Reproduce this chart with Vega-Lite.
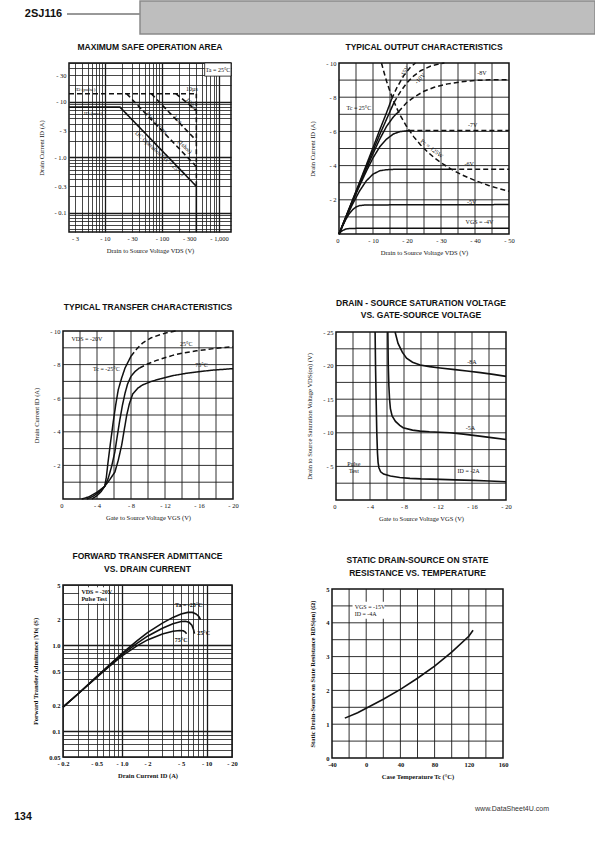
{
  "$schema": "https://vega.github.io/schema/vega-lite/v6.json",
  "padding": 0,
  "background": "white",
  "spacing": 0,
  "bounds": "flush",
  "config": {
    "view": {"stroke": null},
    "font": "Liberation Serif",
    "axis": {"domain": false, "ticks": false, "grid": true, "gridColor": "#1a1a1a", "gridOpacity": 1, "gridWidth": 0.8, "labelFont": "Liberation Serif", "labelFontSize": 6.5, "labelColor": "#111", "labelPadding": 3, "labelOverlap": false, "labelFlush": false, "titleFont": "Liberation Serif", "titleFontSize": 6.5, "titleFontWeight": "normal", "titleColor": "#111", "titlePadding": 6},
    "axisY": {"titlePadding": 10},
    "title": {"font": "Liberation Sans", "fontSize": 8.5, "fontWeight": "bold", "color": "#111", "offset": 9, "lineHeight": 12.5},
    "text": {"font": "Liberation Serif", "fontSize": 6, "color": "#111"},
    "line": {"color": "#111", "strokeWidth": 1.5, "clip": true},
    "rule": {"color": "#111", "strokeWidth": 1.5}
  },
  "datasets": {
    "msoa": [
      {"limit": "DC", "x": 2.35, "y": 8}, {"limit": "DC", "x": 18.4, "y": 8}, {"limit": "DC", "x": 400, "y": 0.3},
      {"limit": "pulse", "x": 2.35, "y": 14}, {"limit": "pulse", "x": 400, "y": 14},
      {"limit": "10 ms", "x": 24, "y": 14}, {"limit": "10 ms", "x": 400, "y": 0.68},
      {"limit": "1 ms", "x": 65, "y": 14}, {"limit": "1 ms", "x": 400, "y": 2.0},
      {"limit": "100 us", "x": 175, "y": 14}, {"limit": "100 us", "x": 400, "y": 7}
    ],
    "msoa_v": [
      {"limit": "DC", "x": 400, "y": 0.045, "y2": 0.3},
      {"limit": "pulse", "x": 400, "y": 0.3, "y2": 14}
    ],
    "output": [
      {"curve": "-4V", "region": "within", "x": 0, "y": 0}, {"curve": "-4V", "region": "within", "x": 0.5, "y": 0.12}, {"curve": "-4V", "region": "within", "x": 1, "y": 0.2}, {"curve": "-4V", "region": "within", "x": 2, "y": 0.29}, {"curve": "-4V", "region": "within", "x": 3, "y": 0.32}, {"curve": "-4V", "region": "within", "x": 5, "y": 0.33}, {"curve": "-4V", "region": "within", "x": 50, "y": 0.34},
      {"curve": "-5V", "region": "within", "x": 0, "y": 0}, {"curve": "-5V", "region": "within", "x": 1, "y": 0.45}, {"curve": "-5V", "region": "within", "x": 2, "y": 0.85}, {"curve": "-5V", "region": "within", "x": 3, "y": 1.18}, {"curve": "-5V", "region": "within", "x": 4, "y": 1.42}, {"curve": "-5V", "region": "within", "x": 5, "y": 1.58}, {"curve": "-5V", "region": "within", "x": 6, "y": 1.66}, {"curve": "-5V", "region": "within", "x": 8, "y": 1.7}, {"curve": "-5V", "region": "within", "x": 50, "y": 1.72},
      {"curve": "-6V", "region": "within", "x": 0, "y": 0}, {"curve": "-6V", "region": "within", "x": 2, "y": 0.9}, {"curve": "-6V", "region": "within", "x": 4, "y": 1.75}, {"curve": "-6V", "region": "within", "x": 6, "y": 2.5}, {"curve": "-6V", "region": "within", "x": 8, "y": 3.1}, {"curve": "-6V", "region": "within", "x": 10, "y": 3.5}, {"curve": "-6V", "region": "within", "x": 12, "y": 3.7}, {"curve": "-6V", "region": "within", "x": 14, "y": 3.76}, {"curve": "-6V", "region": "within", "x": 16, "y": 3.78}, {"curve": "-6V", "region": "within", "x": 33, "y": 3.78},
      {"curve": "-6V", "region": "beyond", "x": 33, "y": 3.78}, {"curve": "-6V", "region": "beyond", "x": 50, "y": 3.78},
      {"curve": "-7V", "region": "within", "x": 0, "y": 0}, {"curve": "-7V", "region": "within", "x": 2, "y": 0.95}, {"curve": "-7V", "region": "within", "x": 4, "y": 1.9}, {"curve": "-7V", "region": "within", "x": 6, "y": 2.8}, {"curve": "-7V", "region": "within", "x": 8, "y": 3.65}, {"curve": "-7V", "region": "within", "x": 10, "y": 4.45}, {"curve": "-7V", "region": "within", "x": 12, "y": 5.1}, {"curve": "-7V", "region": "within", "x": 14, "y": 5.55}, {"curve": "-7V", "region": "within", "x": 16, "y": 5.85}, {"curve": "-7V", "region": "within", "x": 18, "y": 5.99}, {"curve": "-7V", "region": "within", "x": 20.7, "y": 6.05},
      {"curve": "-7V", "region": "beyond", "x": 20.7, "y": 6.05}, {"curve": "-7V", "region": "beyond", "x": 50, "y": 6.05},
      {"curve": "-8V", "region": "within", "x": 0, "y": 0}, {"curve": "-8V", "region": "within", "x": 2, "y": 0.97}, {"curve": "-8V", "region": "within", "x": 4, "y": 1.93}, {"curve": "-8V", "region": "within", "x": 6, "y": 2.88}, {"curve": "-8V", "region": "within", "x": 8, "y": 3.8}, {"curve": "-8V", "region": "within", "x": 10, "y": 4.7}, {"curve": "-8V", "region": "within", "x": 12, "y": 5.55}, {"curve": "-8V", "region": "within", "x": 14, "y": 6.3}, {"curve": "-8V", "region": "within", "x": 16, "y": 6.85}, {"curve": "-8V", "region": "within", "x": 17.5, "y": 7.15},
      {"curve": "-8V", "region": "beyond", "x": 17.5, "y": 7.15}, {"curve": "-8V", "region": "beyond", "x": 20, "y": 7.7}, {"curve": "-8V", "region": "beyond", "x": 22, "y": 8.0}, {"curve": "-8V", "region": "beyond", "x": 25, "y": 8.35}, {"curve": "-8V", "region": "beyond", "x": 28, "y": 8.58}, {"curve": "-8V", "region": "beyond", "x": 32, "y": 8.78}, {"curve": "-8V", "region": "beyond", "x": 36, "y": 8.9}, {"curve": "-8V", "region": "beyond", "x": 40, "y": 8.98}, {"curve": "-8V", "region": "beyond", "x": 45, "y": 9.02}, {"curve": "-8V", "region": "beyond", "x": 50, "y": 9.02},
      {"curve": "-10V", "region": "within", "x": 0, "y": 0}, {"curve": "-10V", "region": "within", "x": 2, "y": 0.99}, {"curve": "-10V", "region": "within", "x": 4, "y": 1.97}, {"curve": "-10V", "region": "within", "x": 6, "y": 2.95}, {"curve": "-10V", "region": "within", "x": 8, "y": 3.92}, {"curve": "-10V", "region": "within", "x": 10, "y": 4.88}, {"curve": "-10V", "region": "within", "x": 12, "y": 5.82}, {"curve": "-10V", "region": "within", "x": 14, "y": 6.72}, {"curve": "-10V", "region": "within", "x": 16.2, "y": 7.7},
      {"curve": "-10V", "region": "beyond", "x": 16.2, "y": 7.7}, {"curve": "-10V", "region": "beyond", "x": 18, "y": 8.3}, {"curve": "-10V", "region": "beyond", "x": 20, "y": 8.85}, {"curve": "-10V", "region": "beyond", "x": 22, "y": 9.25}, {"curve": "-10V", "region": "beyond", "x": 24, "y": 9.55}, {"curve": "-10V", "region": "beyond", "x": 27, "y": 9.82}, {"curve": "-10V", "region": "beyond", "x": 30, "y": 9.97}, {"curve": "-10V", "region": "beyond", "x": 31, "y": 10},
      {"curve": "-15V", "region": "within", "x": 0, "y": 0}, {"curve": "-15V", "region": "within", "x": 2, "y": 1.0}, {"curve": "-15V", "region": "within", "x": 4, "y": 2.0}, {"curve": "-15V", "region": "within", "x": 6, "y": 3.0}, {"curve": "-15V", "region": "within", "x": 8, "y": 4.02}, {"curve": "-15V", "region": "within", "x": 10, "y": 5.05}, {"curve": "-15V", "region": "within", "x": 12, "y": 6.1}, {"curve": "-15V", "region": "within", "x": 14, "y": 7.1}, {"curve": "-15V", "region": "within", "x": 15.5, "y": 7.9},
      {"curve": "-15V", "region": "beyond", "x": 15.5, "y": 7.9}, {"curve": "-15V", "region": "beyond", "x": 17, "y": 8.55}, {"curve": "-15V", "region": "beyond", "x": 19, "y": 9.25}, {"curve": "-15V", "region": "beyond", "x": 21, "y": 9.75}, {"curve": "-15V", "region": "beyond", "x": 22.5, "y": 10},
      {"curve": "Pc", "region": "beyond", "x": 12.5, "y": 10}, {"curve": "Pc", "region": "beyond", "x": 13, "y": 9.62}, {"curve": "Pc", "region": "beyond", "x": 14, "y": 8.93}, {"curve": "Pc", "region": "beyond", "x": 15, "y": 8.33}, {"curve": "Pc", "region": "beyond", "x": 16, "y": 7.81}, {"curve": "Pc", "region": "beyond", "x": 17, "y": 7.35}, {"curve": "Pc", "region": "beyond", "x": 18, "y": 6.94}, {"curve": "Pc", "region": "beyond", "x": 20, "y": 6.25}, {"curve": "Pc", "region": "beyond", "x": 22, "y": 5.68}, {"curve": "Pc", "region": "beyond", "x": 24, "y": 5.21}, {"curve": "Pc", "region": "beyond", "x": 26, "y": 4.81}, {"curve": "Pc", "region": "beyond", "x": 28, "y": 4.46}, {"curve": "Pc", "region": "beyond", "x": 30, "y": 4.17}, {"curve": "Pc", "region": "beyond", "x": 33, "y": 3.79}, {"curve": "Pc", "region": "beyond", "x": 36, "y": 3.47}, {"curve": "Pc", "region": "beyond", "x": 40, "y": 3.13}, {"curve": "Pc", "region": "beyond", "x": 44, "y": 2.84}, {"curve": "Pc", "region": "beyond", "x": 47, "y": 2.66}, {"curve": "Pc", "region": "beyond", "x": 50, "y": 2.5}
    ],
    "transfer": [
      {"curve": "-25C", "region": "within", "x": 3.4, "y": 0}, {"curve": "-25C", "region": "within", "x": 4, "y": 0.2}, {"curve": "-25C", "region": "within", "x": 4.5, "y": 0.45}, {"curve": "-25C", "region": "within", "x": 4.9, "y": 0.75}, {"curve": "-25C", "region": "within", "x": 5.1, "y": 1.3}, {"curve": "-25C", "region": "within", "x": 5.3, "y": 2.2}, {"curve": "-25C", "region": "within", "x": 5.6, "y": 3.4}, {"curve": "-25C", "region": "within", "x": 5.9, "y": 4.55}, {"curve": "-25C", "region": "within", "x": 6.2, "y": 5.6}, {"curve": "-25C", "region": "within", "x": 6.5, "y": 6.5}, {"curve": "-25C", "region": "within", "x": 6.9, "y": 7.2}, {"curve": "-25C", "region": "within", "x": 7.3, "y": 7.8}, {"curve": "-25C", "region": "within", "x": 8.0, "y": 8.5},
      {"curve": "-25C", "region": "beyond", "x": 8.0, "y": 8.5}, {"curve": "-25C", "region": "beyond", "x": 8.7, "y": 8.95}, {"curve": "-25C", "region": "beyond", "x": 9.4, "y": 9.3}, {"curve": "-25C", "region": "beyond", "x": 10.4, "y": 9.6}, {"curve": "-25C", "region": "beyond", "x": 11.4, "y": 9.78}, {"curve": "-25C", "region": "beyond", "x": 12.4, "y": 9.92}, {"curve": "-25C", "region": "beyond", "x": 13.3, "y": 10},
      {"curve": "25C", "region": "within", "x": 2.8, "y": 0}, {"curve": "25C", "region": "within", "x": 3.5, "y": 0.15}, {"curve": "25C", "region": "within", "x": 4.2, "y": 0.4}, {"curve": "25C", "region": "within", "x": 4.9, "y": 0.75}, {"curve": "25C", "region": "within", "x": 5.3, "y": 1.2}, {"curve": "25C", "region": "within", "x": 5.7, "y": 1.9}, {"curve": "25C", "region": "within", "x": 6.1, "y": 2.8}, {"curve": "25C", "region": "within", "x": 6.4, "y": 3.8}, {"curve": "25C", "region": "within", "x": 6.7, "y": 4.75}, {"curve": "25C", "region": "within", "x": 7.0, "y": 5.6}, {"curve": "25C", "region": "within", "x": 7.3, "y": 6.3}, {"curve": "25C", "region": "within", "x": 7.6, "y": 6.85}, {"curve": "25C", "region": "within", "x": 8.0, "y": 7.3}, {"curve": "25C", "region": "within", "x": 8.5, "y": 7.6}, {"curve": "25C", "region": "within", "x": 9.0, "y": 7.8},
      {"curve": "25C", "region": "beyond", "x": 9.0, "y": 7.8}, {"curve": "25C", "region": "beyond", "x": 10, "y": 8.05}, {"curve": "25C", "region": "beyond", "x": 11, "y": 8.25}, {"curve": "25C", "region": "beyond", "x": 12.9, "y": 8.55}, {"curve": "25C", "region": "beyond", "x": 14, "y": 8.68}, {"curve": "25C", "region": "beyond", "x": 15.7, "y": 8.82}, {"curve": "25C", "region": "beyond", "x": 18, "y": 8.97}, {"curve": "25C", "region": "beyond", "x": 20, "y": 9.07},
      {"curve": "75C", "region": "within", "x": 2.2, "y": 0}, {"curve": "75C", "region": "within", "x": 3, "y": 0.12}, {"curve": "75C", "region": "within", "x": 4, "y": 0.4}, {"curve": "75C", "region": "within", "x": 4.9, "y": 0.75}, {"curve": "75C", "region": "within", "x": 5.5, "y": 1.15}, {"curve": "75C", "region": "within", "x": 6.1, "y": 1.6}, {"curve": "75C", "region": "within", "x": 6.5, "y": 2.3}, {"curve": "75C", "region": "within", "x": 6.9, "y": 3.2}, {"curve": "75C", "region": "within", "x": 7.2, "y": 4.1}, {"curve": "75C", "region": "within", "x": 7.5, "y": 5.0}, {"curve": "75C", "region": "within", "x": 7.8, "y": 5.65}, {"curve": "75C", "region": "within", "x": 8.2, "y": 6.25}, {"curve": "75C", "region": "within", "x": 8.8, "y": 6.6}, {"curve": "75C", "region": "within", "x": 9.4, "y": 6.8}, {"curve": "75C", "region": "within", "x": 10.4, "y": 7.0}, {"curve": "75C", "region": "within", "x": 11.4, "y": 7.15}, {"curve": "75C", "region": "within", "x": 13, "y": 7.35}, {"curve": "75C", "region": "within", "x": 14.5, "y": 7.48}, {"curve": "75C", "region": "within", "x": 16, "y": 7.58}, {"curve": "75C", "region": "within", "x": 17.6, "y": 7.67}, {"curve": "75C", "region": "within", "x": 20, "y": 7.76}
    ],
    "satv": [
      {"id": "-2A", "x": 4.6, "y": 25}, {"id": "-2A", "x": 4.65, "y": 20}, {"id": "-2A", "x": 4.72, "y": 15}, {"id": "-2A", "x": 4.8, "y": 10}, {"id": "-2A", "x": 4.88, "y": 7}, {"id": "-2A", "x": 4.95, "y": 5.6}, {"id": "-2A", "x": 5.05, "y": 4.8}, {"id": "-2A", "x": 5.25, "y": 4.2}, {"id": "-2A", "x": 5.6, "y": 3.85}, {"id": "-2A", "x": 6.4, "y": 3.56}, {"id": "-2A", "x": 7.5, "y": 3.35}, {"id": "-2A", "x": 8.7, "y": 3.22}, {"id": "-2A", "x": 10, "y": 3.14}, {"id": "-2A", "x": 12.25, "y": 3.07}, {"id": "-2A", "x": 14, "y": 3.0}, {"id": "-2A", "x": 16.2, "y": 2.92}, {"id": "-2A", "x": 18, "y": 2.83}, {"id": "-2A", "x": 20, "y": 2.72},
      {"id": "-5A", "x": 6.1, "y": 25}, {"id": "-5A", "x": 6.15, "y": 20}, {"id": "-5A", "x": 6.22, "y": 17}, {"id": "-5A", "x": 6.3, "y": 15}, {"id": "-5A", "x": 6.4, "y": 13.6}, {"id": "-5A", "x": 6.6, "y": 12.5}, {"id": "-5A", "x": 7.0, "y": 11.7}, {"id": "-5A", "x": 7.5, "y": 11.1}, {"id": "-5A", "x": 7.9, "y": 10.75}, {"id": "-5A", "x": 9, "y": 10.4}, {"id": "-5A", "x": 9.9, "y": 10.25}, {"id": "-5A", "x": 11, "y": 10.15}, {"id": "-5A", "x": 13.4, "y": 10.0}, {"id": "-5A", "x": 15, "y": 9.8}, {"id": "-5A", "x": 16.9, "y": 9.5}, {"id": "-5A", "x": 18.5, "y": 9.25}, {"id": "-5A", "x": 20, "y": 9.0},
      {"id": "-8A", "x": 6.95, "y": 25}, {"id": "-8A", "x": 7.3, "y": 23.3}, {"id": "-8A", "x": 7.8, "y": 22.0}, {"id": "-8A", "x": 8.3, "y": 21.1}, {"id": "-8A", "x": 9.0, "y": 20.5}, {"id": "-8A", "x": 9.9, "y": 20.1}, {"id": "-8A", "x": 11, "y": 19.85}, {"id": "-8A", "x": 12.25, "y": 19.65}, {"id": "-8A", "x": 14, "y": 19.4}, {"id": "-8A", "x": 15.4, "y": 19.2}, {"id": "-8A", "x": 17, "y": 18.95}, {"id": "-8A", "x": 18.5, "y": 18.7}, {"id": "-8A", "x": 20, "y": 18.4}
    ],
    "yfs": [
      {"curve": "-25C", "x": 0.2, "y": 0.19}, {"curve": "-25C", "x": 0.3, "y": 0.27}, {"curve": "-25C", "x": 0.5, "y": 0.43}, {"curve": "-25C", "x": 0.7, "y": 0.58}, {"curve": "-25C", "x": 1, "y": 0.8}, {"curve": "-25C", "x": 1.5, "y": 1.12}, {"curve": "-25C", "x": 2, "y": 1.4}, {"curve": "-25C", "x": 3, "y": 1.8}, {"curve": "-25C", "x": 4, "y": 2.1}, {"curve": "-25C", "x": 5, "y": 2.3}, {"curve": "-25C", "x": 6, "y": 2.4}, {"curve": "-25C", "x": 6.8, "y": 2.4}, {"curve": "-25C", "x": 7.5, "y": 2.3}, {"curve": "-25C", "x": 8.1, "y": 2.15}, {"curve": "-25C", "x": 8.5, "y": 1.98},
      {"curve": "25C", "x": 0.2, "y": 0.19}, {"curve": "25C", "x": 0.3, "y": 0.27}, {"curve": "25C", "x": 0.5, "y": 0.425}, {"curve": "25C", "x": 0.7, "y": 0.57}, {"curve": "25C", "x": 1, "y": 0.78}, {"curve": "25C", "x": 1.5, "y": 1.05}, {"curve": "25C", "x": 2, "y": 1.27}, {"curve": "25C", "x": 3, "y": 1.57}, {"curve": "25C", "x": 4, "y": 1.77}, {"curve": "25C", "x": 5, "y": 1.88}, {"curve": "25C", "x": 5.6, "y": 1.89}, {"curve": "25C", "x": 6.2, "y": 1.84}, {"curve": "25C", "x": 6.7, "y": 1.7}, {"curve": "25C", "x": 7.0, "y": 1.52}, {"curve": "25C", "x": 7.2, "y": 1.36},
      {"curve": "75C", "x": 0.2, "y": 0.19}, {"curve": "75C", "x": 0.3, "y": 0.27}, {"curve": "75C", "x": 0.5, "y": 0.42}, {"curve": "75C", "x": 0.7, "y": 0.56}, {"curve": "75C", "x": 1, "y": 0.75}, {"curve": "75C", "x": 1.5, "y": 0.98}, {"curve": "75C", "x": 2, "y": 1.15}, {"curve": "75C", "x": 3, "y": 1.35}, {"curve": "75C", "x": 4, "y": 1.45}, {"curve": "75C", "x": 4.8, "y": 1.48}, {"curve": "75C", "x": 5.3, "y": 1.47}, {"curve": "75C", "x": 5.6, "y": 1.42}, {"curve": "75C", "x": 5.8, "y": 1.36}
    ],
    "rds": [
      {"x": -25, "y": 1.18}, {"x": -10, "y": 1.34}, {"x": 0, "y": 1.47}, {"x": 20, "y": 1.74}, {"x": 40, "y": 2.03}, {"x": 60, "y": 2.36}, {"x": 80, "y": 2.72}, {"x": 100, "y": 3.13}, {"x": 120, "y": 3.6}, {"x": 125, "y": 3.78}
    ]
  },
  "vconcat": [
    {
      "hconcat": [
        {"width": 20, "height": 33, "data": {"values": []}, "mark": "point"},
        {"width": 47, "height": 26, "data": {"values": [{"label": "2SJ116"}]}, "mark": {"type": "text", "font": "Liberation Sans", "fontSize": 11, "fontWeight": "bold", "color": "#111"}, "encoding": {"text": {"field": "label"}}},
        {"width": 73, "height": 26, "data": {"values": [{"level": 0.5}]}, "mark": {"type": "rule", "strokeWidth": 1, "color": "#333"}, "encoding": {"y": {"field": "level", "type": "quantitative", "scale": {"domain": [0, 1]}, "axis": null}}},
        {"width": 455, "height": 33, "view": {"fill": "#bebebe", "stroke": "#8a8a8a", "strokeWidth": 1.5}, "data": {"values": []}, "mark": "point"}
      ],
      "spacing": 0, "bounds": "flush"
    },
    {"width": 1, "height": 62, "data": {"values": []}, "mark": "point"},
    {
      "hconcat": [
        {"width": 69, "height": 1, "data": {"values": []}, "mark": "point"},
        {
          "width": 162, "height": 169,
          "view": {"stroke": "#111", "strokeWidth": 1.5},
          "title": {"text": "MAXIMUM SAFE OPERATION AREA"},
          "encoding": {
            "x": {"field": "x", "type": "quantitative", "scale": {"type": "log", "domain": [2.35, 1620], "nice": false},
              "axis": {"title": "Drain to Source Voltage VDS (V)", "values": [3,4,5,6,7,8,9,10,20,30,40,50,60,70,80,90,100,200,300,400,500,600,700,800,900,1000],
                "labelExpr": "indexof([3,10,30,100,300,1000], datum.value) >= 0 ? '- ' + format(datum.value, ',') : ''",
                "gridWidth": {"condition": {"test": "indexof([10,100,1000], datum.value) >= 0", "value": 1.3}, "value": 0.8}}},
            "y": {"field": "y", "type": "quantitative", "scale": {"type": "log", "domain": [0.045, 50], "nice": false},
              "axis": {"title": "Drain Current ID (A)", "values": [0.05,0.06,0.07,0.08,0.09,0.1,0.2,0.3,0.4,0.5,0.6,0.7,0.8,0.9,1,2,3,4,5,6,7,8,9,10,20,30,40,50],
                "labelExpr": "indexof([0.1,0.3,1,3,10,30], datum.value) >= 0 ? '- ' + (datum.value == 1 ? '1.0' : format(datum.value, '~g')) : ''",
                "gridWidth": {"condition": {"test": "indexof([0.1,1,10], datum.value) >= 0", "value": 1.3}, "value": 0.8}}}
          },
          "layer": [
            {"data": {"values": [{"x": 560, "x2": 1620, "y": 29, "y2": 50}]}, "mark": {"type": "rect", "fill": "white", "stroke": "#111", "strokeWidth": 0.8}, "encoding": {"x2": {"field": "x2"}, "y2": {"field": "y2"}}},
            {"data": {"name": "msoa"}, "mark": {"type": "line", "strokeWidth": 1.6}, "encoding": {"strokeDash": {"field": "limit", "type": "nominal", "scale": {"domain": ["DC", "pulse", "10 ms", "1 ms", "100 us"], "range": [[1, 0], [5, 3], [5, 3], [5, 3], [5, 3]]}, "legend": null}}},
            {"data": {"name": "msoa_v"}, "mark": {"type": "rule", "strokeWidth": 1.6}, "encoding": {"y2": {"field": "y2"}, "strokeDash": {"field": "limit", "type": "nominal", "scale": {"domain": ["DC", "pulse", "10 ms", "1 ms", "100 us"], "range": [[1, 0], [5, 3], [5, 3], [5, 3], [5, 3]]}, "legend": null}}},
            {"data": {"values": [{"x": 957, "y": 38, "label": "Ta = 25°C"}, {"x": 336, "y": 17.1, "label": "10µs"}]}, "mark": {"type": "text", "fontSize": 6}, "encoding": {"text": {"field": "label"}}},
            {"data": {"values": [{"x": 3.0, "y": 16.8, "label": "ID (pulse)"}, {"x": 4.3, "y": 6.2, "label": "ID (max)"}]}, "mark": {"type": "text", "fontSize": 5, "align": "left"}, "encoding": {"text": {"field": "label"}}},
            {"data": {"values": [{"x": 331, "y": 9.0, "label": "100µs"}]}, "mark": {"type": "text", "fontSize": 6, "angle": 50}, "encoding": {"text": {"field": "label"}}},
            {"data": {"values": [{"x": 190, "y": 4.8, "label": "1ms"}]}, "mark": {"type": "text", "fontSize": 6, "angle": 45}, "encoding": {"text": {"field": "label"}}},
            {"data": {"values": [{"x": 80.7, "y": 4.1, "label": "PW = 10ms"}]}, "mark": {"type": "text", "fontSize": 6, "angle": 45}, "encoding": {"text": {"field": "label"}}},
            {"data": {"values": [{"x": 253, "y": 1.56, "label": "(1shot)"}]}, "mark": {"type": "text", "fontSize": 6, "angle": 45}, "encoding": {"text": {"field": "label"}}},
            {"data": {"values": [{"x": 92, "y": 1.17, "label": "DC Operation (Tc = 25°C)"}]}, "mark": {"type": "text", "fontSize": 6, "angle": 42}, "encoding": {"text": {"field": "label"}}}
          ]
        },
        {"width": 108, "height": 1, "data": {"values": []}, "mark": "point"},
        {
          "width": 170, "height": 171,
          "view": {"stroke": "#111", "strokeWidth": 1.5},
          "title": {"text": "TYPICAL OUTPUT CHARACTERISTICS"},
          "encoding": {
            "x": {"field": "x", "type": "quantitative", "scale": {"domain": [0, 50], "nice": false},
              "axis": {"title": "Drain to Source Voltage VDS (V)", "grid": false, "values": [0,10,20,30,40,50],
                "labelExpr": "datum.value == 0 ? '0' : '- ' + datum.value",
                "labelAlign": {"condition": {"test": "datum.value == 0", "value": "right"}, "value": "center"}}},
            "y": {"field": "y", "type": "quantitative", "scale": {"domain": [0, 10], "nice": false},
              "axis": {"title": "Drain Current ID (A)", "grid": false, "values": [2,4,6,8,10],
                "labelExpr": "'- ' + datum.value"}}
          },
          "layer": [
            {"data": {"values": [{"x": 5, "y": 0, "y2": 10}, {"x": 10, "y": 0, "y2": 10}, {"x": 15, "y": 0, "y2": 10}, {"x": 20, "y": 0, "y2": 10}, {"x": 25, "y": 0, "y2": 10}, {"x": 30, "y": 0, "y2": 10}, {"x": 35, "y": 0, "y2": 10}, {"x": 40, "y": 0, "y2": 10}, {"x": 45, "y": 0, "y2": 10}]}, "mark": {"type": "rule", "strokeWidth": 0.9, "color": "#1a1a1a"}, "encoding": {"y2": {"field": "y2"}}},
            {"data": {"values": [{"y": 1, "x": 0, "x2": 50}, {"y": 2, "x": 0, "x2": 50}, {"y": 3, "x": 0, "x2": 50}, {"y": 4, "x": 0, "x2": 50}, {"y": 5, "x": 0, "x2": 50}, {"y": 6, "x": 0, "x2": 50}, {"y": 7, "x": 0, "x2": 50}, {"y": 8, "x": 0, "x2": 50}, {"y": 9, "x": 0, "x2": 50}]}, "mark": {"type": "rule", "strokeWidth": 0.9, "color": "#1a1a1a"}, "encoding": {"x2": {"field": "x2"}}},
            {"data": {"name": "output"}, "mark": {"type": "line", "strokeWidth": 1.5}, "encoding": {"detail": {"field": "curve"}, "strokeDash": {"field": "region", "type": "nominal", "scale": {"domain": ["within", "beyond"], "range": [[1, 0], [5, 3]]}, "legend": null}}},
            {"data": {"values": [{"x": 2.2, "y": 7.35, "label": "Tc = 25°C"}]}, "mark": {"type": "text", "align": "left"}, "encoding": {"text": {"field": "label"}}},
            {"data": {"values": [{"x": 41.3, "y": 0.7, "label": "VGS = -4V"}, {"x": 39, "y": 1.9, "label": "-5V"}, {"x": 38.3, "y": 4.1, "label": "-6V"}, {"x": 39.3, "y": 6.4, "label": "-7V"}, {"x": 42, "y": 9.4, "label": "-8V"}]}, "mark": {"type": "text"}, "encoding": {"text": {"field": "label"}}},
            {"data": {"values": [{"x": 19.3, "y": 9.5, "label": "-15V"}]}, "mark": {"type": "text", "angle": -56}, "encoding": {"text": {"field": "label"}}},
            {"data": {"values": [{"x": 23.8, "y": 9.1, "label": "-10V"}]}, "mark": {"type": "text", "angle": -45}, "encoding": {"text": {"field": "label"}}},
            {"data": {"values": [{"x": 27.3, "y": 5.0, "label": "Pc = 125W"}]}, "mark": {"type": "text", "angle": 38}, "encoding": {"text": {"field": "label"}}}
          ]
        }
      ],
      "spacing": 0, "bounds": "flush"
    },
    {"width": 1, "height": 268, "data": {"values": []}, "mark": "point"},
    {
      "hconcat": [
        {"width": 63, "height": 1, "data": {"values": []}, "mark": "point"},
        {
          "width": 170, "height": 168,
          "view": {"stroke": "#111", "strokeWidth": 1.5},
          "title": {"text": "TYPICAL TRANSFER CHARACTERISTICS", "offset": 17},
          "encoding": {
            "x": {"field": "x", "type": "quantitative", "scale": {"domain": [0, 20], "nice": false},
              "axis": {"title": "Gate to Source Voltage VGS (V)", "grid": false, "values": [0,4,8,12,16,20],
                "labelExpr": "datum.value == 0 ? '0' : '- ' + datum.value",
                "labelAlign": {"condition": {"test": "datum.value == 0", "value": "right"}, "value": "center"}}},
            "y": {"field": "y", "type": "quantitative", "scale": {"domain": [0, 10], "nice": false},
              "axis": {"title": "Drain Current ID (A)", "grid": false, "values": [2,4,6,8,10],
                "labelExpr": "'- ' + datum.value"}}
          },
          "layer": [
            {"data": {"values": [{"x": 2, "y": 0, "y2": 10}, {"x": 4, "y": 0, "y2": 10}, {"x": 6, "y": 0, "y2": 10}, {"x": 8, "y": 0, "y2": 10}, {"x": 10, "y": 0, "y2": 10}, {"x": 12, "y": 0, "y2": 10}, {"x": 14, "y": 0, "y2": 10}, {"x": 16, "y": 0, "y2": 10}, {"x": 18, "y": 0, "y2": 10}]}, "mark": {"type": "rule", "strokeWidth": 0.9, "color": "#1a1a1a"}, "encoding": {"y2": {"field": "y2"}}},
            {"data": {"values": [{"y": 1, "x": 0, "x2": 20}, {"y": 2, "x": 0, "x2": 20}, {"y": 3, "x": 0, "x2": 20}, {"y": 4, "x": 0, "x2": 20}, {"y": 5, "x": 0, "x2": 20}, {"y": 6, "x": 0, "x2": 20}, {"y": 7, "x": 0, "x2": 20}, {"y": 8, "x": 0, "x2": 20}, {"y": 9, "x": 0, "x2": 20}]}, "mark": {"type": "rule", "strokeWidth": 0.9, "color": "#1a1a1a"}, "encoding": {"x2": {"field": "x2"}}},
            {"data": {"name": "transfer"}, "mark": {"type": "line", "strokeWidth": 1.5}, "encoding": {"detail": {"field": "curve"}, "strokeDash": {"field": "region", "type": "nominal", "scale": {"domain": ["within", "beyond"], "range": [[1, 0], [5, 3]]}, "legend": null}}},
            {"data": {"values": [{"x": 1.0, "y": 9.5, "label": "VDS = -20V"}]}, "mark": {"type": "text", "align": "left"}, "encoding": {"text": {"field": "label"}}},
            {"data": {"values": [{"x": 5.1, "y": 7.72, "label": "Tc = -25°C"}, {"x": 14.5, "y": 9.2, "label": "25°C"}, {"x": 16.3, "y": 7.96, "label": "75°C"}]}, "mark": {"type": "text"}, "encoding": {"text": {"field": "label"}}}
          ]
        },
        {"width": 103, "height": 1, "data": {"values": []}, "mark": "point"},
        {
          "vconcat": [
            {"width": 1, "height": 1, "data": {"values": []}, "mark": "point"},
            {
              "width": 170, "height": 168,
              "view": {"stroke": "#111", "strokeWidth": 1.5},
              "title": {"text": ["DRAIN - SOURCE SATURATION VOLTAGE", "VS. GATE-SOURCE VOLTAGE"]},
              "encoding": {
                "x": {"field": "x", "type": "quantitative", "scale": {"domain": [0, 20], "nice": false},
                  "axis": {"title": "Gate to Source Voltage VGS (V)", "grid": false, "values": [0,4,8,12,16,20],
                    "labelExpr": "datum.value == 0 ? '0' : '- ' + datum.value",
                    "labelAlign": {"condition": {"test": "datum.value == 0", "value": "right"}, "value": "center"}}},
                "y": {"field": "y", "type": "quantitative", "scale": {"domain": [0, 25], "nice": false},
                  "axis": {"title": "Drain to Source Saturation Voltage VDS(on) (V)", "grid": false, "values": [5,10,15,20,25],
                    "labelExpr": "'- ' + datum.value"}}
              },
              "layer": [
                {"data": {"values": [{"x": 2, "y": 0, "y2": 25}, {"x": 4, "y": 0, "y2": 25}, {"x": 6, "y": 0, "y2": 25}, {"x": 8, "y": 0, "y2": 25}, {"x": 10, "y": 0, "y2": 25}, {"x": 12, "y": 0, "y2": 25}, {"x": 14, "y": 0, "y2": 25}, {"x": 16, "y": 0, "y2": 25}, {"x": 18, "y": 0, "y2": 25}]}, "mark": {"type": "rule", "strokeWidth": 0.9, "color": "#1a1a1a"}, "encoding": {"y2": {"field": "y2"}}},
                {"data": {"values": [{"y": 2.5, "x": 0, "x2": 20}, {"y": 5, "x": 0, "x2": 20}, {"y": 7.5, "x": 0, "x2": 20}, {"y": 10, "x": 0, "x2": 20}, {"y": 12.5, "x": 0, "x2": 20}, {"y": 15, "x": 0, "x2": 20}, {"y": 17.5, "x": 0, "x2": 20}, {"y": 20, "x": 0, "x2": 20}, {"y": 22.5, "x": 0, "x2": 20}]}, "mark": {"type": "rule", "strokeWidth": 0.9, "color": "#1a1a1a"}, "encoding": {"x2": {"field": "x2"}}},
                {"data": {"name": "satv"}, "mark": {"type": "line", "strokeWidth": 1.6}, "encoding": {"detail": {"field": "id"}}},
                {"data": {"values": [{"x": 16, "y": 20.6, "label": "-8A"}, {"x": 15.8, "y": 10.7, "label": "-5A"}, {"x": 15.6, "y": 4.3, "label": "ID = -2A"}, {"x": 2.1, "y": 5.3, "label": "Pulse"}, {"x": 2.1, "y": 4.3, "label": "Test"}]}, "mark": {"type": "text"}, "encoding": {"text": {"field": "label"}}}
              ]
            }
          ],
          "spacing": 0, "bounds": "flush"
        }
      ],
      "spacing": 0, "bounds": "flush"
    },
    {"width": 1, "height": 254, "data": {"values": []}, "mark": "point"},
    {
      "hconcat": [
        {"width": 63, "height": 1, "data": {"values": []}, "mark": "point"},
        {
          "width": 169, "height": 172,
          "view": {"stroke": "#111", "strokeWidth": 1.5},
          "title": {"text": ["FORWARD TRANSFER ADMITTANCE", "VS. DRAIN CURRENT"]},
          "encoding": {
            "x": {"field": "x", "type": "quantitative", "scale": {"type": "log", "domain": [0.2, 20], "nice": false},
              "axis": {"title": "Drain Current ID (A)", "titleFontWeight": "bold", "labelFontWeight": "bold", "values": [0.2,0.3,0.4,0.5,0.6,0.7,0.8,0.9,1,2,3,4,5,6,7,8,9,10,20],
                "labelExpr": "indexof([0.2,0.5,1,2,5,10,20], datum.value) >= 0 ? '- ' + (datum.value == 1 ? '1.0' : format(datum.value, '~g')) : ''",
                "gridWidth": {"condition": {"test": "indexof([1,10], datum.value) >= 0", "value": 1.3}, "value": 0.8}}},
            "y": {"field": "y", "type": "quantitative", "scale": {"type": "log", "domain": [0.05, 5], "nice": false},
              "axis": {"title": "Forward Transfer Admittance |Yfs| (S)", "titleFontWeight": "bold", "labelFontWeight": "bold", "values": [0.05,0.06,0.07,0.08,0.09,0.1,0.2,0.3,0.4,0.5,0.6,0.7,0.8,0.9,1,2,3,4,5],
                "labelExpr": "indexof([0.05,0.1,0.2,0.5,1,2,5], datum.value) >= 0 ? (datum.value == 1 ? '1.0' : format(datum.value, '~g')) : ''",
                "gridWidth": {"condition": {"test": "indexof([0.1,1], datum.value) >= 0", "value": 1.3}, "value": 0.8}}}
          },
          "layer": [
            {"data": {"values": [{"x": 0.31, "x2": 0.68, "y": 3.05, "y2": 4.7}]}, "mark": {"type": "rect", "fill": "white"}, "encoding": {"x2": {"field": "x2"}, "y2": {"field": "y2"}}},
            {"data": {"name": "yfs"}, "mark": {"type": "line", "strokeWidth": 1.6}, "encoding": {"detail": {"field": "curve"}}},
            {"data": {"values": [{"x": 0.33, "y": 4.15, "label": "VDS = -20V"}, {"x": 0.33, "y": 3.45, "label": "Pulse Test"}]}, "mark": {"type": "text", "align": "left", "fontWeight": "bold"}, "encoding": {"text": {"field": "label"}}},
            {"data": {"values": [{"x": 6.15, "y": 2.9, "label": "Ta = -25°C"}, {"x": 9.25, "y": 1.37, "label": "25°C"}, {"x": 5.0, "y": 1.14, "label": "75°C"}]}, "mark": {"type": "text", "fontWeight": "bold"}, "encoding": {"text": {"field": "label"}}}
          ]
        },
        {"width": 100, "height": 1, "data": {"values": []}, "mark": "point"},
        {
          "vconcat": [
            {"width": 1, "height": 4, "data": {"values": []}, "mark": "point"},
            {
              "width": 171, "height": 169,
              "view": {"stroke": "#111", "strokeWidth": 1.5},
              "title": {"text": ["STATIC DRAIN-SOURCE ON STATE", "RESISTANCE VS. TEMPERATURE"]},
              "encoding": {
                "x": {"field": "x", "type": "quantitative", "scale": {"domain": [-40, 160], "nice": false, "zero": false},
                  "axis": {"title": "Case Temperature Tc (°C)", "grid": false, "titleFontWeight": "bold", "labelFontWeight": "bold", "values": [-40,0,40,80,120,160],
                    "labelExpr": "datum.value < 0 ? '-' + abs(datum.value) : '' + datum.value"}},
                "y": {"field": "y", "type": "quantitative", "scale": {"domain": [0, 5], "nice": false},
                  "axis": {"title": "Static Drain-Source on State Resistance RDS(on) (Ω)", "grid": false, "titleFontWeight": "bold", "labelFontWeight": "bold", "values": [0,1,2,3,4,5],
                    "labelExpr": "'' + datum.value"}}
              },
              "layer": [
                {"data": {"values": [{"x": -20, "y": 0, "y2": 5}, {"x": 0, "y": 0, "y2": 5}, {"x": 20, "y": 0, "y2": 5}, {"x": 40, "y": 0, "y2": 5}, {"x": 60, "y": 0, "y2": 5}, {"x": 80, "y": 0, "y2": 5}, {"x": 100, "y": 0, "y2": 5}, {"x": 120, "y": 0, "y2": 5}, {"x": 140, "y": 0, "y2": 5}]}, "mark": {"type": "rule", "strokeWidth": 0.9, "color": "#1a1a1a"}, "encoding": {"y2": {"field": "y2"}}},
                {"data": {"values": [{"y": 0.5, "x": -40, "x2": 160}, {"y": 1, "x": -40, "x2": 160}, {"y": 1.5, "x": -40, "x2": 160}, {"y": 2, "x": -40, "x2": 160}, {"y": 2.5, "x": -40, "x2": 160}, {"y": 3, "x": -40, "x2": 160}, {"y": 3.5, "x": -40, "x2": 160}, {"y": 4, "x": -40, "x2": 160}, {"y": 4.5, "x": -40, "x2": 160}]}, "mark": {"type": "rule", "strokeWidth": 0.9, "color": "#1a1a1a"}, "encoding": {"x2": {"field": "x2"}}},
                {"data": {"values": [{"x": -16, "x2": 22, "y": 4.12, "y2": 4.62}]}, "mark": {"type": "rect", "fill": "white"}, "encoding": {"x2": {"field": "x2"}, "y2": {"field": "y2"}}},
                {"data": {"name": "rds"}, "mark": {"type": "line", "strokeWidth": 1.6}},
                {"data": {"values": [{"x": -13.5, "y": 4.46, "label": "VGS = -15V"}, {"x": -13.5, "y": 4.26, "label": "ID = -4A"}]}, "mark": {"type": "text", "align": "left"}, "encoding": {"text": {"field": "label"}}}
              ]
            }
          ],
          "spacing": 0, "bounds": "flush"
        }
      ],
      "spacing": 0, "bounds": "flush"
    },
    {"width": 1, "height": 216, "data": {"values": []}, "mark": "point"},
    {
      "hconcat": [
        {"width": 12, "height": 1, "data": {"values": []}, "mark": "point"},
        {"width": 22, "height": 32, "data": {"values": [{"label": "134"}]}, "mark": {"type": "text", "font": "Liberation Sans", "fontSize": 10.5, "fontWeight": "bold", "color": "#111"}, "encoding": {"text": {"field": "label"}}},
        {"width": 428, "height": 1, "data": {"values": []}, "mark": "point"},
        {"width": 100, "height": 16, "data": {"values": [{"label": "www.DataSheet4U.com"}]}, "mark": {"type": "text", "font": "Liberation Sans", "fontSize": 7, "color": "#333"}, "encoding": {"text": {"field": "label"}}}
      ],
      "spacing": 0, "bounds": "flush"
    }
  ]
}
